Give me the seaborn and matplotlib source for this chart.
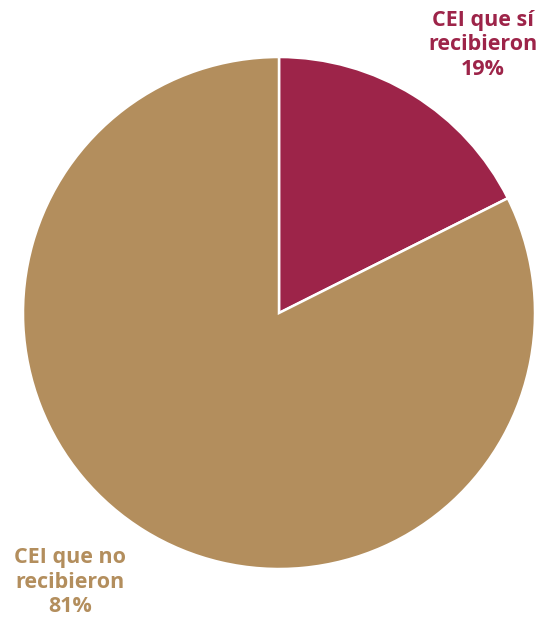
import matplotlib
matplotlib.use("Agg")
import matplotlib.pyplot as plt
import seaborn as sns

categories = ["CEI que sí\nrecibieron", "CEI que no\nrecibieron"]
values = [17.6, 82.4]
pct_labels = ["19%", "81%"]
colors = ["#9D2449", "#B38E5D"]

sns.set_theme(style="white")
plt.rcParams["font.family"] = ["Open Sans", "DejaVu Sans"]

W, H = 540, 618
fig = plt.figure(figsize=(W / 100, H / 100), dpi=100)
cx, cy, r = 279, 313, 256
ax = fig.add_axes([(cx - r) / W, (H - cy - r) / H, 2 * r / W, 2 * r / H])
wedges, _ = ax.pie(values, colors=colors, startangle=90, counterclock=False,
                   wedgeprops=dict(edgecolor="white", linewidth=1.8))
for w in wedges:
    w.set_clip_on(False)
ax.set_xlim(-1.0, 1.0)
ax.set_ylim(-1.0, 1.0)
ax.set_aspect("equal")
ax.axis("off")

pos = [(483, 45), (70, 582)]
for cat, pl, col, (x, y) in zip(categories, pct_labels, colors, pos):
    fig.text(x / W, 1 - y / H, f"{cat}\n{pl}", ha="center", va="center",
             color=col, fontsize=15.5, fontweight="bold", linespacing=1.22)

fig.savefig("out.png", dpi=100)
